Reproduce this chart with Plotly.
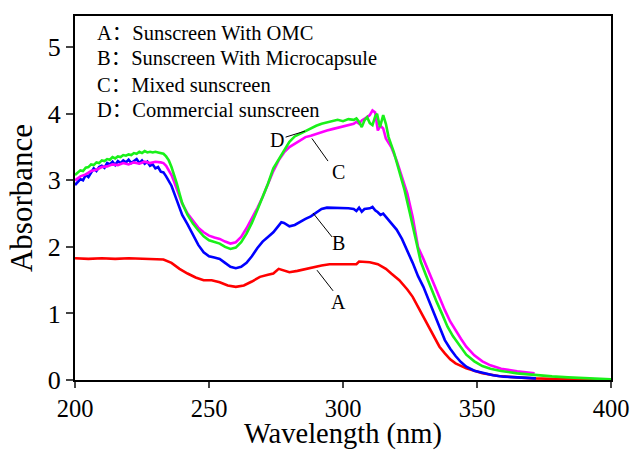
import plotly.graph_objects as go

# ---------------- data ----------------
wl_A = [200, 205, 210, 215, 220, 225, 230, 233, 236, 239, 242, 245, 248, 251, 254, 257, 260, 263, 266, 269,
        272, 274, 276, 278, 280, 283, 286, 289, 292, 295, 298, 301, 304, 305, 306, 308, 310, 313, 316, 318,
        321, 324, 326, 328, 330, 332, 334, 336, 338, 340, 342, 346, 352, 358, 365, 371, 380, 390, 400]
abs_A = [1.83, 1.82, 1.83, 1.82, 1.83, 1.82, 1.82, 1.81, 1.76, 1.67, 1.60, 1.54, 1.50, 1.50, 1.47, 1.42, 1.40, 1.42, 1.48, 1.55,
         1.58, 1.60, 1.67, 1.64, 1.62, 1.64, 1.67, 1.70, 1.72, 1.74, 1.74, 1.74, 1.73, 1.74, 1.78, 1.78, 1.77, 1.74, 1.67, 1.60,
         1.50, 1.36, 1.25, 1.10, 0.95, 0.80, 0.64, 0.50, 0.40, 0.31, 0.25, 0.175, 0.10, 0.06, 0.04, 0.025, 0.015, 0.01, 0.005]

wl_B = [200, 201, 202, 203, 204, 205, 206, 207, 208, 209, 210, 211, 212, 213, 214, 215, 216, 217, 218, 219,
        220, 221, 222, 223, 224, 225, 226, 227, 228, 229, 230, 231, 232, 233, 234, 235, 236, 238, 240, 242,
        244, 246, 248, 250, 252, 254, 256, 258, 260, 262, 264, 266, 268, 270, 272, 274, 276, 277, 278, 280,
        282, 284, 286, 288, 290, 292, 294, 296, 298, 300, 302, 304, 305, 306, 307, 308, 310, 311, 312, 313,
        314, 315, 317, 320, 322, 324, 326, 328, 330, 332, 334, 336, 338, 340, 342, 344, 346, 349, 352, 356,
        360, 366, 372]
abs_B = [2.93, 2.97, 3.02, 3.00, 3.08, 3.05, 3.12, 3.18, 3.14, 3.20, 3.22, 3.19, 3.26, 3.24, 3.28, 3.23, 3.29, 3.26, 3.30, 3.27,
         3.31, 3.26, 3.29, 3.32, 3.26, 3.30, 3.25, 3.28, 3.22, 3.24, 3.18, 3.20, 3.13, 3.12, 3.06, 2.98, 2.92, 2.70, 2.48, 2.34,
         2.18, 2.03, 1.92, 1.86, 1.84, 1.82, 1.76, 1.70, 1.68, 1.70, 1.76, 1.86, 1.98, 2.08, 2.15, 2.22, 2.32, 2.37, 2.36, 2.31,
         2.33, 2.38, 2.42, 2.46, 2.52, 2.57, 2.59, 2.59, 2.58, 2.59, 2.58, 2.57, 2.54, 2.59, 2.53, 2.57, 2.58, 2.60, 2.55, 2.52,
         2.48, 2.50, 2.40, 2.26, 2.12, 1.95, 1.76, 1.56, 1.40, 1.20, 1.00, 0.80, 0.60, 0.47, 0.36, 0.27, 0.20, 0.14, 0.105, 0.07,
         0.05, 0.035, 0.025]

wl_C = [200, 202, 204, 206, 208, 210, 212, 214, 216, 218, 220, 222, 224, 226, 228, 230, 232, 233, 234, 235,
        236, 237, 238, 239, 240, 242, 244, 246, 248, 250, 252, 254, 256, 258, 260, 262, 264, 266, 268, 270,
        272, 274, 276, 278, 280, 282, 284, 286, 288, 290, 292, 294, 296, 298, 300, 302, 304, 305, 306, 307,
        308, 309, 310, 311, 312, 313, 314, 315, 316, 318, 320, 322, 324, 326, 328, 330, 332, 334, 336, 338,
        340, 342, 344, 346, 349, 352, 355, 359, 365, 371.5]
abs_C = [3.00, 3.06, 3.09, 3.14, 3.16, 3.20, 3.21, 3.24, 3.23, 3.26, 3.24, 3.27, 3.25, 3.28, 3.26, 3.28, 3.27, 3.26, 3.22, 3.16,
         3.08, 2.98, 2.87, 2.75, 2.65, 2.50, 2.40, 2.29, 2.22, 2.17, 2.14, 2.12, 2.08, 2.05, 2.07, 2.15, 2.28, 2.42, 2.58, 2.75,
         2.95, 3.14, 3.30, 3.42, 3.50, 3.55, 3.60, 3.65, 3.67, 3.70, 3.72, 3.75, 3.77, 3.79, 3.81, 3.84, 3.85, 3.88, 3.85, 3.90,
         3.92, 3.95, 3.98, 4.05, 4.02, 3.75, 3.82, 3.78, 3.63, 3.50, 3.30, 3.05, 2.80, 2.45, 2.00, 1.82, 1.62, 1.45, 1.24, 1.05,
         0.88, 0.74, 0.62, 0.50, 0.37, 0.28, 0.22, 0.17, 0.13, 0.10]

wl_D = [200, 201, 202, 203, 204, 205, 206, 207, 208, 209, 210, 211, 212, 213, 214, 215, 216, 217, 218, 219,
        220, 221, 222, 223, 224, 225, 226, 227, 228, 229, 230, 231, 232, 233, 234, 235, 236, 237, 238, 239,
        240, 242, 244, 246, 248, 250, 252, 254, 256, 258, 260, 262, 264, 266, 268, 270, 272, 274, 276, 278,
        280, 282, 284, 286, 288, 290, 292, 294, 296, 298, 300, 302, 304, 305, 306, 307, 308, 309, 310, 311,
        312, 312.7, 313.8, 315, 316, 317, 319, 321, 323, 325, 327, 329, 331, 333, 335, 337, 339, 341, 343, 346,
        349, 352, 355, 359, 365, 371, 378, 384, 392, 400]
abs_D = [3.08, 3.12, 3.15, 3.14, 3.19, 3.20, 3.24, 3.23, 3.27, 3.26, 3.30, 3.29, 3.32, 3.31, 3.35, 3.33, 3.36, 3.35, 3.38, 3.37,
         3.39, 3.38, 3.41, 3.40, 3.43, 3.41, 3.44, 3.42, 3.43, 3.42, 3.43, 3.42, 3.41, 3.40, 3.36, 3.30, 3.20, 3.08, 2.95, 2.80,
         2.66, 2.48, 2.35, 2.25, 2.16, 2.10, 2.07, 2.05, 2.00, 1.97, 1.99, 2.07, 2.20, 2.36, 2.55, 2.74, 2.95, 3.18, 3.32, 3.45,
         3.58, 3.66, 3.70, 3.75, 3.78, 3.82, 3.85, 3.87, 3.88, 3.91, 3.89, 3.92, 3.91, 3.93, 3.88, 3.80, 3.90, 3.95, 3.86, 3.83,
         3.96, 4.00, 3.80, 3.98, 3.85, 3.65, 3.42, 3.12, 2.85, 2.50, 2.12, 1.78, 1.57, 1.36, 1.17, 0.99, 0.80, 0.66, 0.54, 0.38,
         0.28, 0.21, 0.17, 0.135, 0.10, 0.075, 0.055, 0.04, 0.025, 0.01]

legend_lines = ["A：Sunscreen With OMC", "B：Sunscreen With Microcapsule",
                "C：Mixed sunscreen", "D：Commercial sunscreen"]
legend_y = [5.21, 4.83, 4.44, 4.05]

x_ticks = [200, 250, 300, 350, 400]
y_ticks = [0, 1, 2, 3, 4, 5]
x_title = "Wavelength (nm)"
y_title = "Absorbance"

# callout labels: (text, label x, label y, line start x, y, line end x, y)
callouts = [
    ("A", 298.5, 1.17, 290.3, 1.65, 296.3, 1.34),
    ("B", 298.5, 2.06, 288.8, 2.51, 295.9, 2.15),
    ("C", 298.2, 3.13, 288.4, 3.63, 294.4, 3.29),
    ("D", 275.3, 3.60, 278.6, 3.65, 285.8, 3.74),
]

FONT = "Liberation Serif, Times New Roman, Noto Sans CJK SC, serif"

fig = go.Figure()
series = [(wl_A, abs_A, "#ff0000", "A"), (wl_B, abs_B, "#0000ff", "B"),
          (wl_C, abs_C, "#ff00ff", "C"), (wl_D, abs_D, "#19f019", "D")]
for xs, ys, col, name in series:
    fig.add_trace(go.Scatter(x=xs, y=ys, mode="lines", name=name,
                             line=dict(color=col, width=2.6), showlegend=False))

annotations = []
for i, t in enumerate(legend_lines):
    annotations.append(dict(x=207.5, y=legend_y[i], xref="x", yref="y", text=t, showarrow=False,
                            xanchor="left", yanchor="middle", font=dict(family=FONT, size=20.5, color="black")))
shapes = []
for lab, lx, ly, x0, y0, x1, y1 in callouts:
    annotations.append(dict(x=lx, y=ly, xref="x", yref="y", text=lab, showarrow=False,
                            xanchor="center", yanchor="middle", font=dict(family=FONT, size=20, color="black")))
    shapes.append(dict(type="line", xref="x", yref="y", x0=x0, y0=y0, x1=x1, y1=y1,
                       line=dict(color="black", width=1)))
# x-axis title placed as an annotation for exact spacing under the tick labels
annotations.append(dict(x=0.5, y=0, xref="paper", yref="paper", text=x_title, showarrow=False,
                        xanchor="center", yanchor="top", yshift=-37, borderpad=0,
                        font=dict(family=FONT, size=28.5, color="black")))

fig.update_layout(
    width=632, height=450,
    margin=dict(l=75, r=21, t=16, b=70),
    paper_bgcolor="white", plot_bgcolor="white",
    font=dict(family=FONT, color="black"),
    annotations=annotations, shapes=shapes,
    xaxis=dict(range=[200, 400], tickvals=x_ticks, ticks="outside", ticklen=6, tickwidth=2,
               showline=True, linewidth=2, linecolor="black", mirror=True, showgrid=False, zeroline=False,
               automargin=False, tickfont=dict(family=FONT, size=24.5)),
    yaxis=dict(range=[0, 5.47], tickvals=y_ticks, ticks="outside", ticklen=7, tickwidth=2,
               showline=True, linewidth=2, linecolor="black", mirror=True, showgrid=False, zeroline=False,
               automargin=False, tickfont=dict(family=FONT, size=26),
               title=dict(text=y_title, font=dict(family=FONT, size=31), standoff=6)),
)

fig.write_html("out.html")
